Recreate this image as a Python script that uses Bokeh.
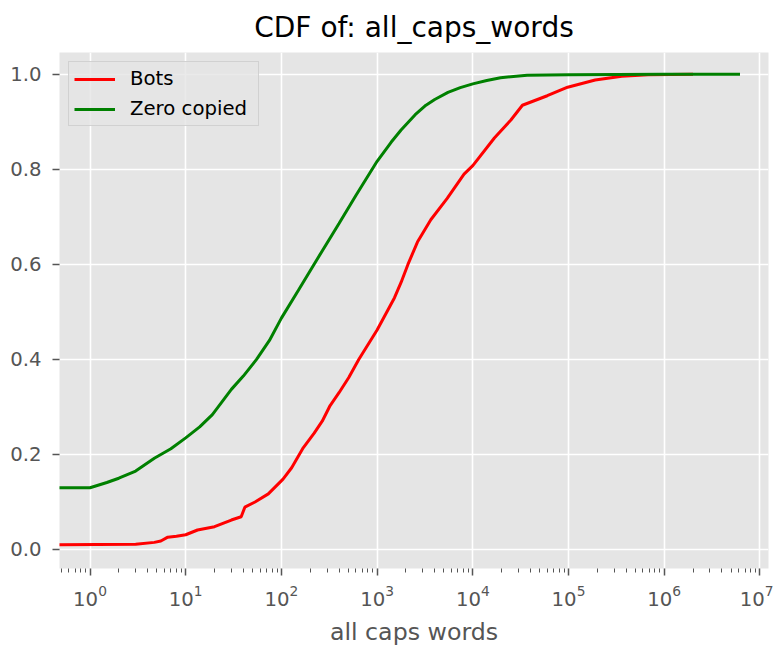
from bokeh.plotting import figure
from bokeh.models import FixedTicker, PrintfTickFormatter
from bokeh.embed import file_html
from bokeh.resources import INLINE

# ---- data ----
bots_x = [0.3, 3, 4.7, 5.5, 6.5, 8, 10, 13.3, 20, 30, 38, 41.5, 53, 73, 104, 128,
          169, 220, 267, 323, 400, 506, 643, 1000, 1520, 1780, 2100, 2640, 3640,
          5400, 8100, 10000, 16800, 25000, 33000, 60000, 98000, 190000, 360000,
          680000, 2000000]
bots_y = [0.010, 0.011, 0.015, 0.018, 0.026, 0.028, 0.031, 0.041, 0.048, 0.062,
          0.069, 0.089, 0.100, 0.117, 0.148, 0.172, 0.214, 0.245, 0.270, 0.303,
          0.330, 0.362, 0.400, 0.462, 0.530, 0.562, 0.600, 0.647, 0.694, 0.739,
          0.790, 0.808, 0.866, 0.904, 0.935, 0.955, 0.973, 0.988, 0.996, 0.999,
          1.000]

zero_x = [0.3, 1, 1.5, 2, 3, 4.7, 7, 10, 14, 19, 30, 40, 55, 75, 100, 150, 219,
          400, 600, 1000, 1400, 1780, 2500, 3240, 4000, 5500, 7400, 10000, 14000,
          19500, 37000, 100000, 1000000, 6200000]
zero_y = [0.130, 0.130, 0.141, 0.150, 0.165, 0.192, 0.212, 0.235, 0.258, 0.284,
          0.337, 0.365, 0.400, 0.440, 0.487, 0.545, 0.600, 0.686, 0.745, 0.817,
          0.857, 0.883, 0.915, 0.935, 0.947, 0.962, 0.972, 0.980, 0.987, 0.993,
          0.998, 0.999, 1.000, 1.000]

x_major_ticks = [1e0, 1e1, 1e2, 1e3, 1e4, 1e5, 1e6, 1e7]
y_ticks = [0.0, 0.2, 0.4, 0.6, 0.8, 1.0]
x_minor_ticks = [m * 10.0 ** k for k in range(-1, 7) for m in range(2, 10)]

title_text = "CDF of: all_caps_words"
x_label = "all caps words"

FONT = "DejaVu Sans"
GRAY = "#555555"

p = figure(width=773, height=648, x_axis_type="log",
           x_range=(0.48, 1.23e7), y_range=(-0.04, 1.046),
           output_backend="svg", toolbar_location=None,
           min_border_left=59, min_border_right=5,
           min_border_top=48, min_border_bottom=72)

p.title.text = title_text
p.title.text_font = FONT
p.title.text_font_size = "28px"
p.title.text_font_style = "normal"
p.title.text_color = "#000000"
p.title.align = "center"
p.title.standoff = 17

p.background_fill_color = "#E5E5E5"
p.border_fill_color = "white"
p.outline_line_color = None

p.line(bots_x, bots_y, line_color="#ff0000", line_width=3, legend_label="Bots")
p.line(zero_x, zero_y, line_color="#008000", line_width=3, legend_label="Zero copied")

p.xaxis.ticker = FixedTicker(ticks=x_major_ticks, minor_ticks=x_minor_ticks)
p.yaxis.ticker = FixedTicker(ticks=y_ticks)
p.yaxis.formatter = PrintfTickFormatter(format="%.1f")

for ax in (p.xaxis, p.yaxis):
    ax.axis_line_color = None
    ax.major_tick_line_color = GRAY
    ax.major_tick_line_width = 1.5
    ax.major_tick_out = 7
    ax.major_tick_in = 0
    ax.major_label_text_font = FONT
    ax.major_label_text_font_size = "19.7px"
    ax.major_label_text_color = GRAY

p.xaxis.major_label_standoff = 9
p.yaxis.major_label_standoff = 11

p.xaxis.minor_tick_line_color = GRAY
p.xaxis.minor_tick_line_width = 1
p.xaxis.minor_tick_out = 4
p.xaxis.minor_tick_in = 0
p.yaxis.minor_tick_line_color = None

p.xaxis.axis_label = x_label
p.xaxis.axis_label_text_font = FONT
p.xaxis.axis_label_text_font_size = "23.7px"
p.xaxis.axis_label_text_font_style = "normal"
p.xaxis.axis_label_text_color = GRAY
p.xaxis.axis_label_standoff = 9

p.xgrid.grid_line_color = "white"
p.ygrid.grid_line_color = "white"
p.xgrid.grid_line_width = 1.6
p.ygrid.grid_line_width = 1.6

lg = p.legend[0]
lg.location = "top_left"
lg.margin = 9
lg.padding = 5
lg.spacing = 7
lg.glyph_width = 41
lg.glyph_height = 22
lg.label_height = 22
lg.label_width = 123
lg.label_standoff = 15
lg.label_text_font = FONT
lg.label_text_font_size = "19.7px"
lg.label_text_color = "#000000"
lg.background_fill_color = "#E5E5E5"
lg.background_fill_alpha = 0.8
lg.border_line_color = "#cccccc"
lg.border_line_alpha = 0.8
lg.border_line_width = 1

open("out.html", "w").write(file_html(p, INLINE))
